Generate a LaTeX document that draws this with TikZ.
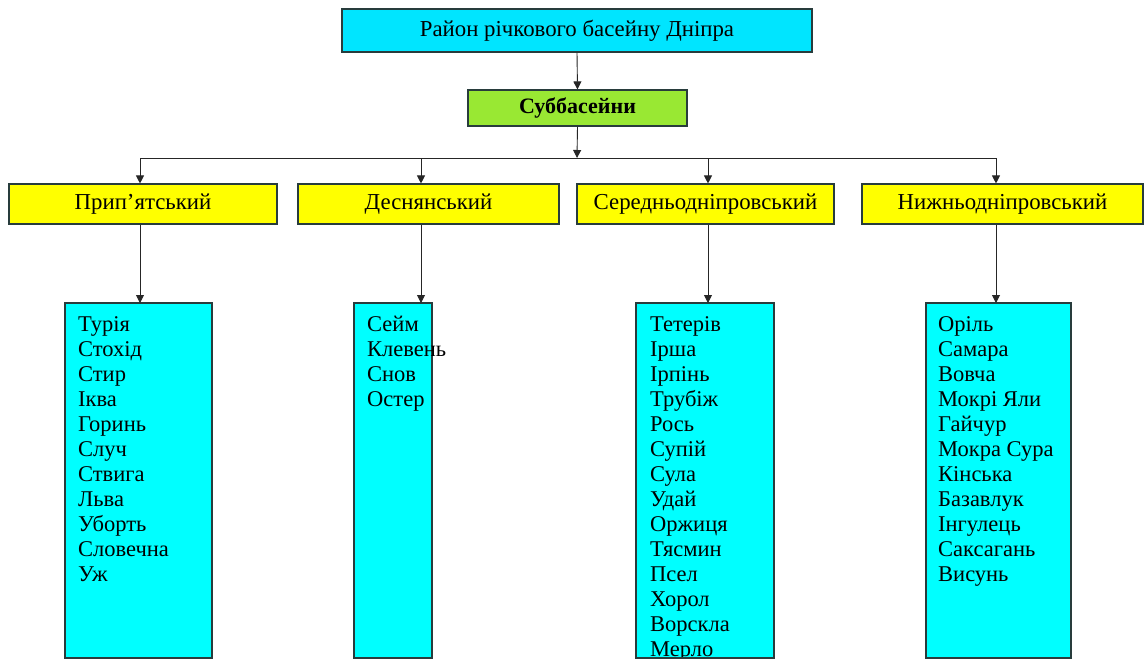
\documentclass[tikz,border=0pt]{standalone}
\usepackage{fontspec}
\setmainfont{Liberation Serif}
\usetikzlibrary{arrows.meta}
\definecolor{topcyan}{RGB}{0,229,255}
\definecolor{subgreen}{RGB}{153,232,51}
\definecolor{ylw}{RGB}{255,255,0}
\definecolor{listcyan}{RGB}{0,255,255}
\definecolor{edge}{RGB}{40,60,60}
\begin{document}
\begin{tikzpicture}[x=1pt,y=-1pt,
  box/.style={draw=edge, line width=1.1pt, inner sep=0pt, font=\fontsize{22.8}{26}\selectfont},
  topbox/.style={box, fill=topcyan, minimum width=470pt, minimum height=43pt},
  subbox/.style={box, fill=subgreen, minimum width=219pt, minimum height=36pt, font=\bfseries\fontsize{22}{26}\selectfont},
  regbox/.style={box, fill=ylw, minimum height=40pt},
  listbox/.style={draw=edge, line width=1.1pt, fill=listcyan, anchor=north west, inner sep=0pt},
  listtext/.style={anchor=north west, inner sep=0pt, align=left, font=\fontsize{22.5}{25}\selectfont},
  conn/.style={draw=black!85, line width=0.9pt},
  arr/.style={conn, -{Triangle[length=8pt,width=8pt]}}
]
\useasboundingbox (0,0) rectangle (1144,659);
\fill[white] (0,0) rectangle (1144,659);

% top boxes
\node[topbox] (top) at (577,30.5) {Район річкового басейну Дніпра};
\node[subbox] (sub) at (577.5,108) {Суббасейни};

% bus
\coordinate (bus) at (577,158);
\coordinate (j1) at (140,158);
\coordinate (j2) at (421,158);
\coordinate (j3) at (708,158);
\coordinate (j4) at (996,158);

% regional boxes
\node[regbox, minimum width=268pt] (r1) at (143,204) {Прип’ятський};
\node[regbox, minimum width=261pt] (r2) at (428.5,204) {Деснянський};
\node[regbox, minimum width=257pt] (r3) at (705.5,204) {Середньодніпровський};
\node[regbox, minimum width=281pt] (r4) at (1002.5,204) {Нижньодніпровський};

% list boxes
\path[listbox] (65,303) rectangle (212,658);
\path[listbox] (354,303) rectangle (432,658);
\path[listbox] (636,303) rectangle (774,658);
\path[listbox] (926,303) rectangle (1071,658);
\coordinate (l1) at (140,303);
\coordinate (l2) at (421,303);
\coordinate (l3) at (708,303);
\coordinate (l4) at (996,303);

\node[listtext] (t1) at (78,313) {\rule{0pt}{18pt}Турія\\Стохід\\Стир\\Іква\\Горинь\\Случ\\Ствига\\Льва\\Уборть\\Словечна\\Уж};
\node[listtext] (t2) at (367,313) {\rule{0pt}{18pt}Сейм\\Клевень\\Снов\\Остер};
\begin{scope}
\clip (636,303) rectangle (774,657.5);
\node[listtext] (t3) at (650,313) {\rule{0pt}{18pt}Тетерів\\Ірша\\Ірпінь\\Трубіж\\Рось\\Супій\\Сула\\Удай\\Оржиця\\Тясмин\\Псел\\Хорол\\Ворскла\\Мерло};
\end{scope}
\node[listtext] (t4) at (938,313) {\rule{0pt}{18pt}Оріль\\Самара\\Вовча\\Мокрі Яли\\Гайчур\\Мокра Сура\\Кінська\\Базавлук\\Інгулець\\Саксагань\\Висунь};
\draw[edge, line width=1.1pt] (636,658) -- (774,658);

% connectors
\draw[arr] (top.south) -- (sub.north);
\draw[arr] (sub.south) -- (bus);
\draw[conn] (j1) -- (j4);
\draw[arr] (j1) -- (j1 |- r1.north);
\draw[arr] (j2) -- (j2 |- r2.north);
\draw[arr] (j3) -- (j3 |- r3.north);
\draw[arr] (j4) -- (j4 |- r4.north);
\draw[arr] (j1 |- r1.south) -- (l1);
\draw[arr] (j2 |- r2.south) -- (l2);
\draw[arr] (j3 |- r3.south) -- (l3);
\draw[arr] (j4 |- r4.south) -- (l4);
\end{tikzpicture}
\end{document}
